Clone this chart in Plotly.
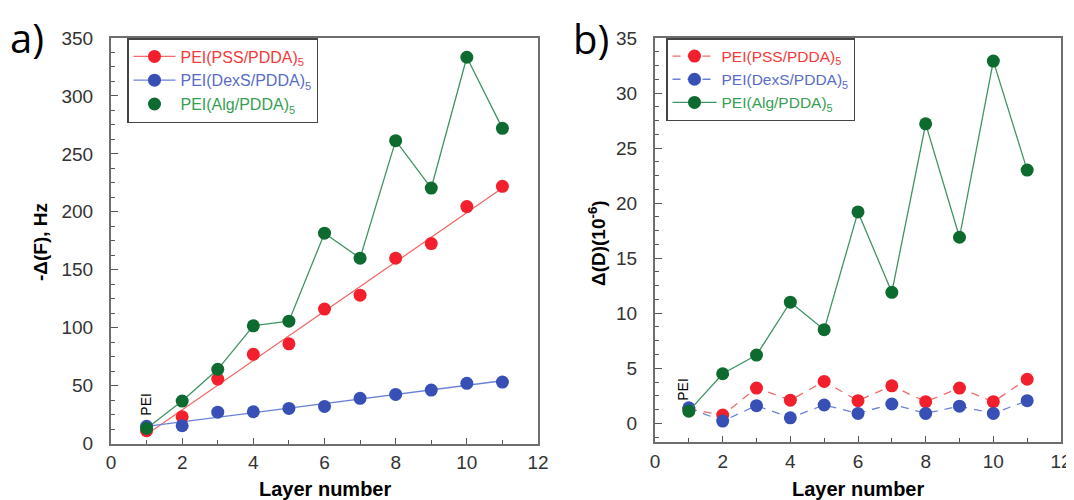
import numpy as np
import plotly.graph_objects as go

# ---------------- data ----------------
layers = [1, 2, 3, 4, 5, 6, 7, 8, 9, 10, 11]

# panel a: -delta F (Hz)
dF_pss = [11, 23, 55.6, 77, 86, 116, 128, 160, 172.6, 204.5, 222]
dF_dexs = [14.8, 15.3, 27, 27.4, 30.3, 32, 39, 42.4, 46.1, 51.9, 53]
dF_alg = [13, 36.6, 64, 101.6, 105.6, 181.5, 160, 261.4, 220.5, 333.4, 272]

# panel b: delta D (1e-6)
dD_pss = [1.3, 0.75, 3.2, 2.1, 3.8, 2.05, 3.4, 1.96, 3.2, 1.96, 4.0]
dD_dexs = [1.4, 0.2, 1.6, 0.5, 1.66, 0.9, 1.75, 0.9, 1.55, 0.9, 2.05]
dD_alg = [1.1, 4.5, 6.2, 11.0, 8.5, 19.2, 11.9, 27.2, 16.9, 32.9, 23.0]

series_names = ["PEI(PSS/PDDA)", "PEI(DexS/PDDA)", "PEI(Alg/PDDA)"]

# ---------------- styles ----------------
RED_M, RED_L, RED_T = "#f2202c", "#f26a6a", "#f23a3a"
BLUE_M, BLUE_L, BLUE_T = "#3850b6", "#6a82d6", "#5a6cc8"
GREEN_M, GREEN_L, GREEN_T = "#0d6b2f", "#3f9463", "#35a052"
MS = 13
FONT = "Liberation Sans, Arial, sans-serif"

W, H = 1074, 500
OFF = 8  # page offset of the figure inside the browser window


def PX(px):
    return (px - OFF) / W


def PY(py):
    return 1 - (py - OFF) / H


def legend_name(name, color):
    return f"<span style='color:{color}'>{name}<sub>5</sub></span>"


fig = go.Figure()
x_arr = np.array(layers, dtype=float)


def fit_line(y):
    k, b = np.polyfit(x_arr, np.array(y, dtype=float), 1)
    xs = np.array([x_arr.min(), x_arr.max()])
    return xs, k * xs + b


# ---- panel a ----
xs, ys = fit_line(dF_pss)
fig.add_trace(go.Scatter(x=xs, y=ys, mode="lines", line=dict(color=RED_L, width=1.3),
                         showlegend=False, xaxis="x", yaxis="y", hoverinfo="skip"))
xs, ys = fit_line(dF_dexs)
fig.add_trace(go.Scatter(x=xs, y=ys, mode="lines", line=dict(color=BLUE_L, width=1.3),
                         showlegend=False, xaxis="x", yaxis="y", hoverinfo="skip"))
fig.add_trace(go.Scatter(x=layers, y=dF_alg, mode="lines", line=dict(color=GREEN_L, width=1.3),
                         showlegend=False, xaxis="x", yaxis="y", hoverinfo="skip"))
fig.add_trace(go.Scatter(x=layers, y=dF_pss, mode="markers", marker=dict(color=RED_M, size=MS),
                         showlegend=False, xaxis="x", yaxis="y", cliponaxis=False))
fig.add_trace(go.Scatter(x=layers, y=dF_dexs, mode="markers", marker=dict(color=BLUE_M, size=MS),
                         showlegend=False, xaxis="x", yaxis="y", cliponaxis=False))
# legend entries panel a
fig.add_trace(go.Scatter(x=[None], y=[None], mode="lines+markers",
                         name=legend_name(series_names[0], RED_T),
                         line=dict(color=RED_L, width=1.3), marker=dict(color=RED_M, size=MS),
                         legend="legend", xaxis="x", yaxis="y"))
fig.add_trace(go.Scatter(x=[None], y=[None], mode="lines+markers",
                         name=legend_name(series_names[1], BLUE_T),
                         line=dict(color=BLUE_L, width=1.3), marker=dict(color=BLUE_M, size=MS),
                         legend="legend", xaxis="x", yaxis="y"))
fig.add_trace(go.Scatter(x=layers, y=dF_alg, mode="markers",
                         name=legend_name(series_names[2], GREEN_T),
                         marker=dict(color=GREEN_M, size=MS), legend="legend",
                         xaxis="x", yaxis="y", cliponaxis=False))

# ---- panel b ----
fig.add_trace(go.Scatter(x=layers, y=dD_pss, mode="lines+markers",
                         name=legend_name(series_names[0], RED_T),
                         line=dict(color=RED_L, width=1.3, dash="8px,7px"),
                         marker=dict(color=RED_M, size=MS), legend="legend2",
                         xaxis="x2", yaxis="y2", cliponaxis=False))
fig.add_trace(go.Scatter(x=layers, y=dD_dexs, mode="lines+markers",
                         name=legend_name(series_names[1], BLUE_T),
                         line=dict(color=BLUE_L, width=1.3, dash="8px,7px"),
                         marker=dict(color=BLUE_M, size=MS), legend="legend2",
                         xaxis="x2", yaxis="y2", cliponaxis=False))
fig.add_trace(go.Scatter(x=layers, y=dD_alg, mode="lines+markers",
                         name=legend_name(series_names[2], GREEN_T),
                         line=dict(color=GREEN_L, width=1.3),
                         marker=dict(color=GREEN_M, size=MS), legend="legend2",
                         xaxis="x2", yaxis="y2", cliponaxis=False))

# ---------------- axes ----------------
FRAME = "#6e6e6e"
TICKC = "#555555"
tickfont = dict(family=FONT, size=19, color="#333333")


def xaxis_cfg(domain, anchor):
    return dict(domain=domain, anchor=anchor, range=[0, 12], dtick=2, tick0=0,
                ticks="inside", ticklen=6, tickwidth=1.3, tickcolor=TICKC,
                minor=dict(dtick=1, ticks="inside", ticklen=4, tickwidth=1.3, tickcolor=TICKC),
                showline=True, linecolor=FRAME, linewidth=2, mirror=True,
                showgrid=False, zeroline=False, tickfont=tickfont, ticklabelstandoff=1,
                automargin=False)


def yaxis_cfg(domain, anchor, rng, dtick, mdtick):
    return dict(domain=domain, anchor=anchor, range=rng, dtick=dtick, tick0=0,
                ticks="inside", ticklen=7, tickwidth=1.3, tickcolor=TICKC,
                minor=dict(dtick=mdtick, tick0=0, ticks="inside", ticklen=4, tickwidth=1.3, tickcolor=TICKC),
                showline=True, linecolor=FRAME, linewidth=2, mirror=True,
                showgrid=False, zeroline=False, tickfont=tickfont, ticklabelstandoff=12,
                automargin=False)


xa_dom = [PX(111), PX(538)]
xb_dom = [PX(655), PX(1061)]
ya_dom = [PY(443.5), PY(38)]
yb_dom = [PY(442), PY(38)]

legend_common = dict(bgcolor="white", bordercolor="#444444", borderwidth=1.5,
                     xanchor="left", yanchor="top", traceorder="normal",
                     itemclick=False, tracegroupgap=0)

fig.update_layout(
    width=W, height=H,
    margin=dict(l=0, r=0, t=0, b=0, pad=0),
    paper_bgcolor="white", plot_bgcolor="white",
    xaxis=xaxis_cfg(xa_dom, "y"),
    yaxis=yaxis_cfg(ya_dom, "x", [0, 350], 50, 12.5),
    xaxis2=xaxis_cfg(xb_dom, "y2"),
    yaxis2=yaxis_cfg(yb_dom, "x2", [-1.7, 35], 5, 1.25),
    legend=dict(x=PX(127), y=PY(38), font=dict(family=FONT, size=16), itemwidth=42,
                **legend_common),
    legend2=dict(x=PX(666), y=PY(38), font=dict(family=FONT, size=15.5), itemwidth=44,
                 **legend_common),
    showlegend=True,
)

# ---------------- text ----------------
def paper_text(text, xpx, ypx, size, family=FONT, angle=0, xanchor="center", yanchor="middle"):
    return dict(text=text, x=PX(xpx), y=PY(ypx), xref="paper", yref="paper",
                xanchor=xanchor, yanchor=yanchor, showarrow=False, textangle=angle,
                font=dict(family=family, size=size, color="black"))


ann = [
    paper_text("a)", 8, 8, 40, family="Open Sans, sans-serif", xanchor="left", yanchor="top"),
    paper_text("b)", 591, 38, 40, family="Open Sans, sans-serif"),
    paper_text("<b>Layer number</b>", (111 + 538) / 2, 489, 20),
    paper_text("<b>Layer number</b>", (655 + 1061) / 2, 489, 20),
    paper_text("<b>-Δ(F), Hz</b>", 40, 242, 19, angle=-90),
    paper_text("<b>Δ(D)(10<sup>-6</sup>)</b>", 597, 243, 19, angle=-90),
    dict(text="PEI", x=1.0, y=34, xref="x", yref="y", showarrow=False, textangle=-90,
         xanchor="center", yanchor="middle", font=dict(family=FONT, size=14, color="black")),
    dict(text="PEI", x=0.83, y=3.05, xref="x2", yref="y2", showarrow=False, textangle=-90,
         xanchor="center", yanchor="middle", font=dict(family=FONT, size=14, color="black")),
]
fig.update_layout(annotations=ann)

fig.write_html("out.html")
